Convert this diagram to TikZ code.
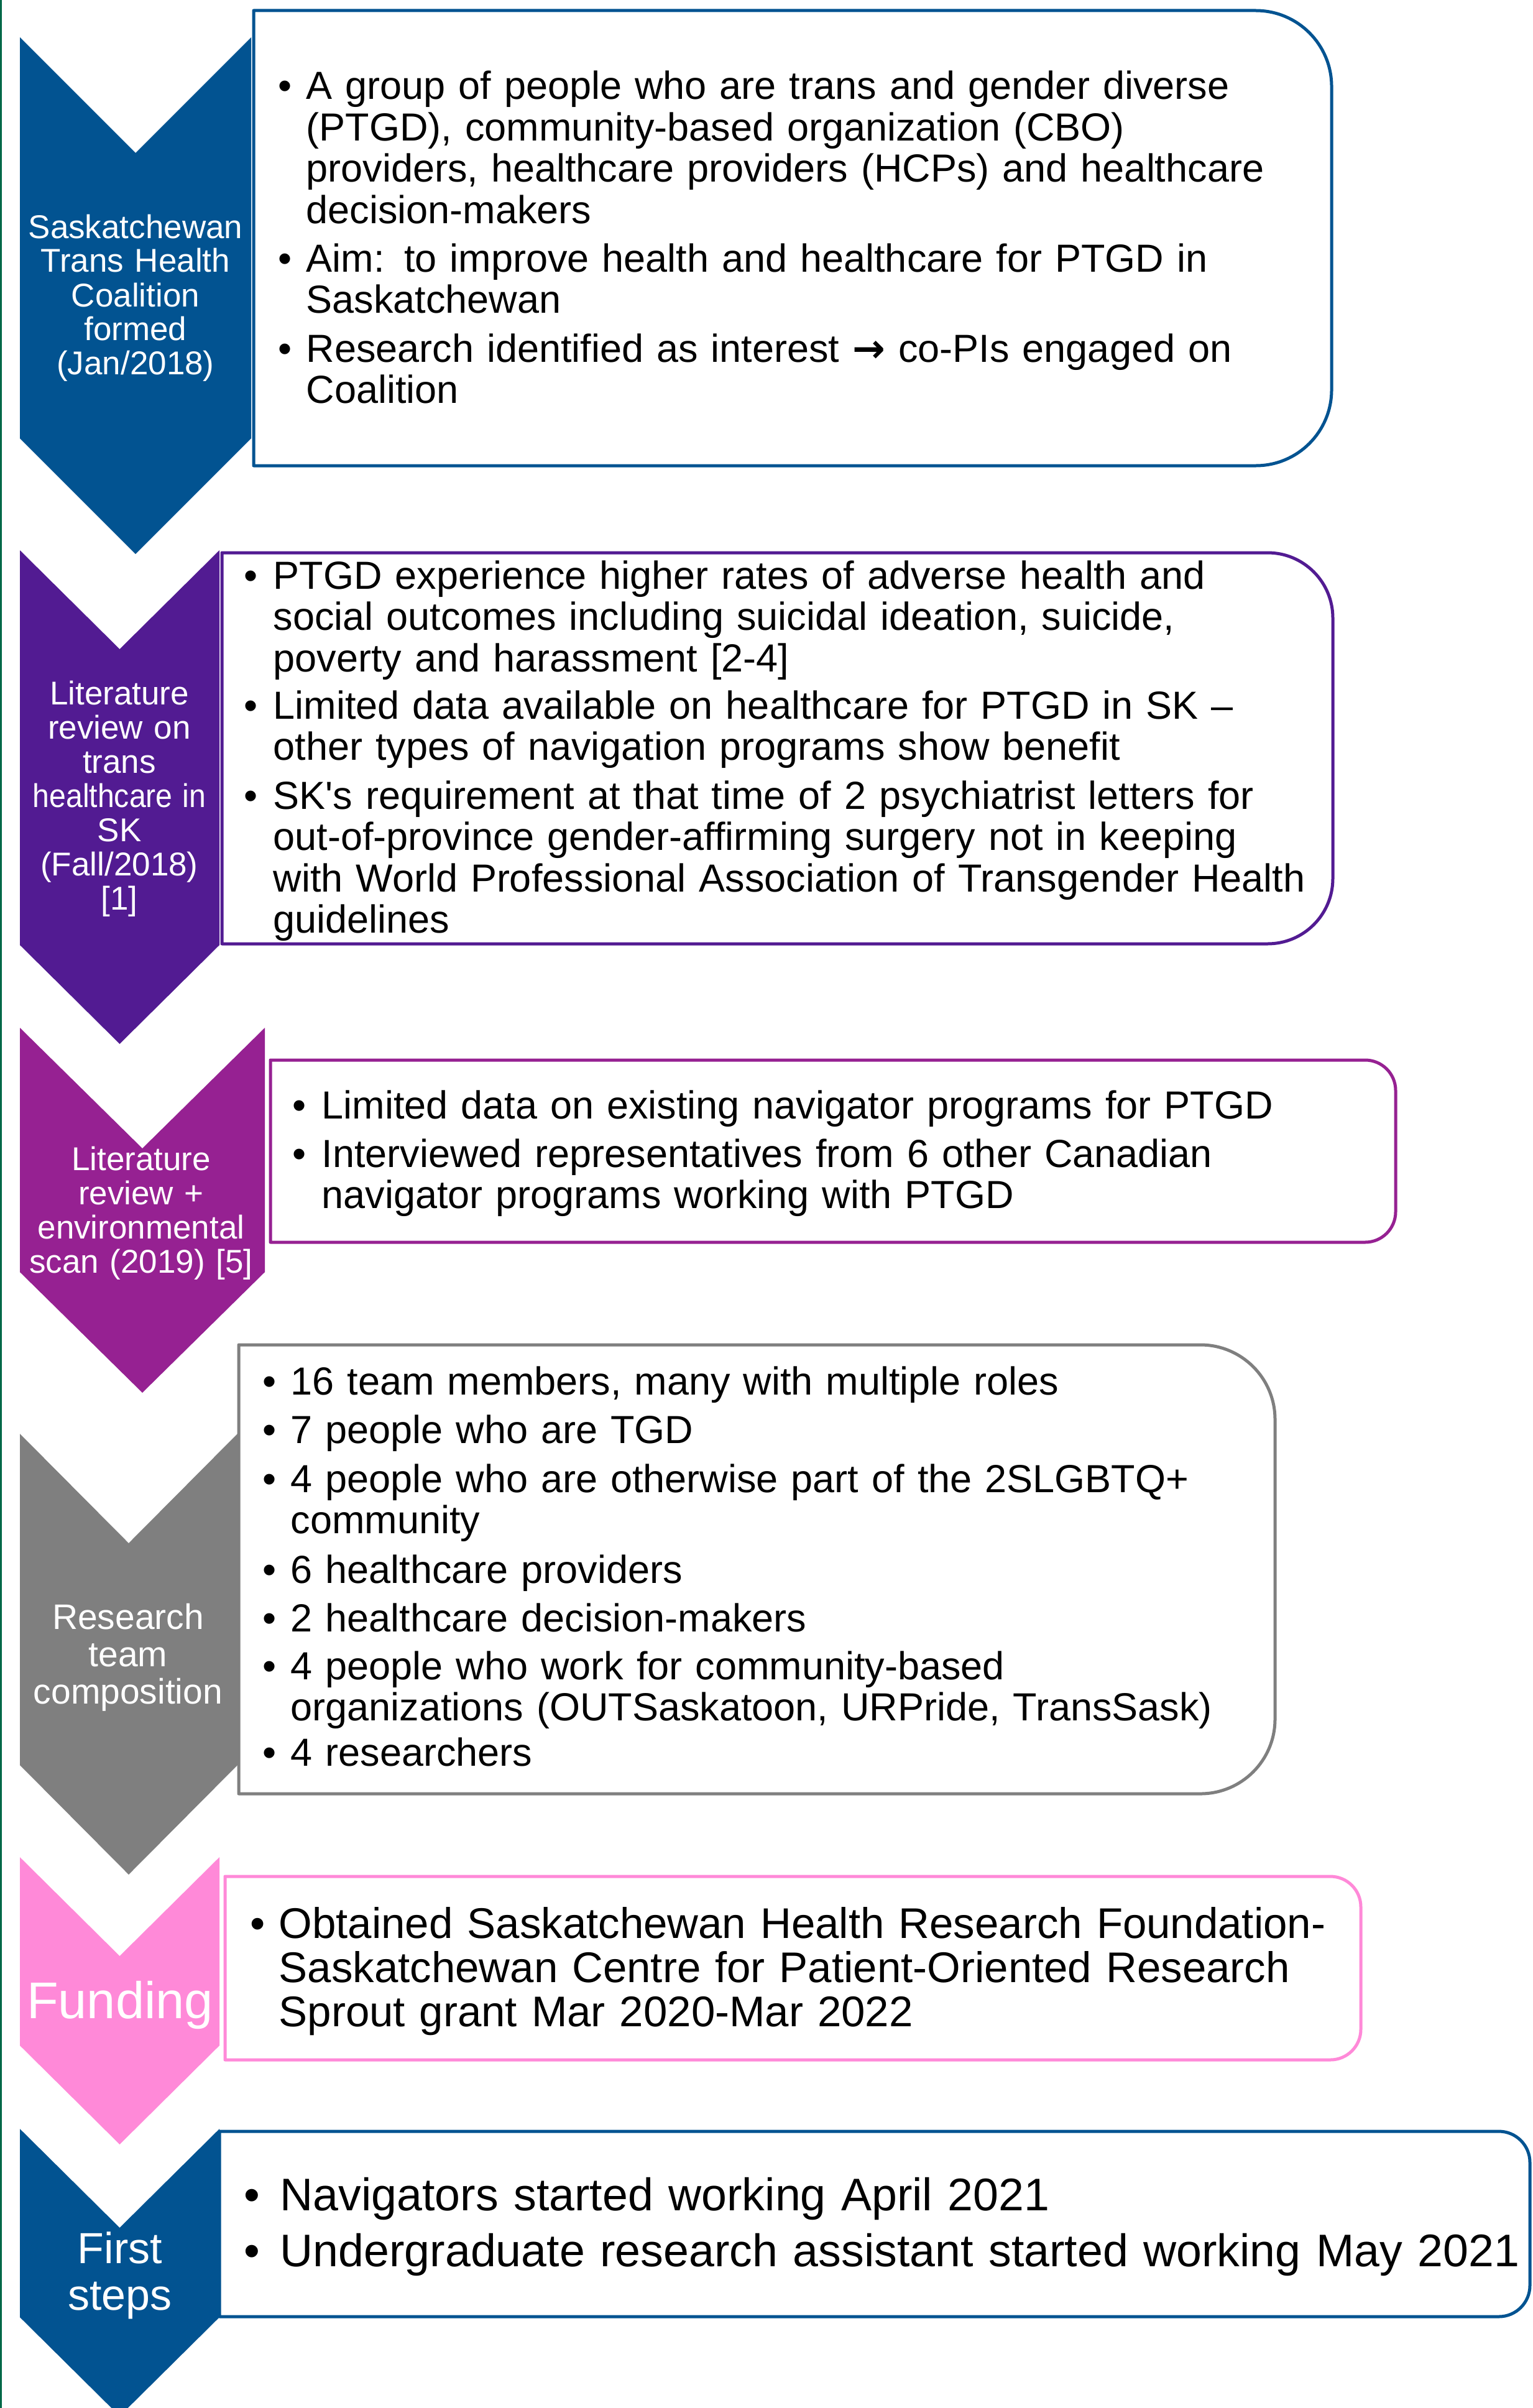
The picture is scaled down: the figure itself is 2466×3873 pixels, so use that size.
\documentclass[tikz,border=0pt]{standalone}
\usepackage{fontspec}
\usepackage{graphicx}
\setmainfont{Liberation Sans}
\newfontfamily\arrowfont{DejaVu Sans}
\definecolor{cblue}{RGB}{2,83,145}
\definecolor{cpurple}{RGB}{82,27,146}
\definecolor{cmagenta}{RGB}{150,33,146}
\definecolor{cgray}{RGB}{127,127,127}
\definecolor{cpink}{RGB}{255,137,216}
\definecolor{cgreen}{RGB}{0,104,71}
\newcommand\fsz[2]{\fontsize{#1pt}{#2pt}\selectfont}
% chevron: colour, left, right, top, depth, bottom corner
\newcommand\chevron[6]{\fill[#1] (#2,#4) -- ({(#2+#3)/2},{#4+#5}) -- (#3,#4) -- (#3,#6) -- ({(#2+#3)/2},{#6+#5}) -- (#2,#6) -- cycle;}
% box with rounded right corners: left, top, right, bottom, colour, radius
\newcommand\rbox[6]{\draw[boxline,draw=#5] (#1,#2) -- ({#3-#6},#2) arc[start angle=-90,end angle=0,radius=#6] -- (#3,{#4-#6}) arc[start angle=0,end angle=90,radius=#6] -- (#1,#4) -- cycle;}
\tikzset{
  chev/.style={text=white, align=center, anchor=base, inner sep=0pt, text width=125pt},
  itemA/.style={anchor=base west, inner sep=0pt, text width=640pt, align=left, font=\fsz{18.9}{19.95}},
  itemB/.style={anchor=base west, inner sep=0pt, text width=640pt, align=left, font=\fsz{20.7}{21.3}},
  itemC/.style={anchor=base west, inner sep=0pt, text width=640pt, align=left, font=\fsz{22.05}{26.7}},
  bulA/.style={anchor=base west, inner sep=0pt, font=\fsz{18.9}{19.95}},
  bulB/.style={anchor=base west, inner sep=0pt, font=\fsz{20.7}{21.3}},
  bulC/.style={anchor=base west, inner sep=0pt, font=\fsz{22.05}{26.7}},
  boxline/.style={line width=1.5pt, fill=white, line join=round},
}
\begin{document}
\begin{tikzpicture}[x=0.3pt,y=-0.3pt]
\useasboundingbox (0,0) rectangle (2466,3873);
\fill[white] (0,0) rectangle (2466,3873);
\fill[cgreen] (0,0) rectangle (3,3873);

% chevrons
\chevron{cblue}{32}{404}{60}{186}{705}
\chevron{cpurple}{32}{353}{885}{159}{1520}
\chevron{cmagenta}{32}{426}{1653}{194}{2046}
\chevron{cgray}{32}{382}{2306}{176}{2839}
\chevron{cpink}{32}{353}{2987}{159}{3290}
\chevron{cblue}{32}{353}{3424}{159}{3727}

% boxes
\rbox{408}{17}{2142}{749}{cblue}{122}
\rbox{357}{889}{2144}{1518}{cpurple}{105}
\rbox{435}{1705}{2245}{1998}{cmagenta}{49}
\rbox{384}{2163}{2051}{2885}{cgray}{120}
\rbox{362}{3018}{2189}{3313}{cpink}{49}
\rbox{353}{3428}{2461}{3726}{cblue}{50}

% chevron labels
\node[chev, font=\fsz{15.9}{16.5}] (c1) at (218,383) {Saskatchewan\\Trans Health\\Coalition\\formed\\(Jan/2018)};
\node[chev, font=\fsz{15.9}{16.5}] (c2) at (192,1133) {Literature\\review on\\trans\\\scalebox{0.91}[1]{healthcare in}\\SK\\(Fall/2018)\\{}[1]};
\node[chev, font=\fsz{15.9}{16.5}] (c3) at (227,1882) {Literature\\review +\\environmental\\scan (2019) [5]};
\node[chev, font=\fsz{17.1}{18}] (c4) at (206,2620) {Research\\team\\composition};
\node[chev, font=\fsz{24.9}{26}] (c5) at (193,3246) {Funding};
\node[chev, font=\fsz{21}{22.5}] (c6) at (193,3640) {First\\steps};

% box 1
\foreach \y/\n in {160/1,437/2,582/3} \node[bulA] (b1\n) at (447,\y) {•};
\node[itemA] (i11) at (492,160) {A group of people who are trans and gender diverse\\(PTGD), community-based organization (CBO)\\providers, healthcare providers (HCPs) and healthcare\\decision-makers};
\node[itemA] (i12) at (492,437) {Aim: to improve health and healthcare for PTGD in\\Saskatchewan};
\node[itemA] (i13) at (492,582) {Research identified as interest {\arrowfont\bfseries →} co-PIs engaged on\\Coalition};

% box 2
\foreach \y/\n in {947/1,1156/2,1301/3} \node[bulA] (b2\n) at (392,\y) {•};
\node[itemA] (i21) at (439,947) {PTGD experience higher rates of adverse health and\\social outcomes including suicidal ideation, suicide,\\poverty and harassment [2-4]};
\node[itemA] (i22) at (439,1156) {Limited data available on healthcare for PTGD in SK –\\other types of navigation programs show benefit};
\node[itemA] (i23) at (439,1301) {SK\textquotesingle s requirement at that time of 2 psychiatrist letters for\\out-of-province gender-affirming surgery not in keeping\\with World Professional Association of Transgender Health\\guidelines};

% box 3
\foreach \y/\n in {1799/1,1877/2} \node[bulA] (b3\n) at (470,\y) {•};
\node[itemA] (i31) at (517,1799) {Limited data on existing navigator programs for PTGD};
\node[itemA] (i32) at (517,1877) {Interviewed representatives from 6 other Canadian\\navigator programs working with PTGD};

% box 4
\foreach \y/\n in {2243/1,2321/2,2400/3,2546/4,2624/5,2701/6,2840/7} \node[bulA] (b4\n) at (422,\y) {•};
\node[itemA] (i41) at (467,2243) {16 team members, many with multiple roles};
\node[itemA] (i42) at (467,2321) {7 people who are TGD};
\node[itemA] (i43) at (467,2400) {4 people who are otherwise part of the 2SLGBTQ+\\community};
\node[itemA] (i44) at (467,2546) {6 healthcare providers};
\node[itemA] (i45) at (467,2624) {2 healthcare decision-makers};
\node[itemA] (i46) at (467,2701) {4 people who work for community-based\\organizations (OUTSaskatoon, URPride, TransSask)};
\node[itemA] (i47) at (467,2840) {4 researchers};

% box 5
\node[bulB] (b51) at (402,3117) {•};
\node[itemB] (i51) at (448,3117) {Obtained Saskatchewan Health Research Foundation-\\Saskatchewan Centre for Patient-Oriented Research\\Sprout grant Mar 2020-Mar 2022};

% box 6
\foreach \y/\n in {3555/1,3645/2} \node[bulC] (b6\n) at (392,\y) {•};
\node[itemC] (i61) at (450,3555) {Navigators started working April 2021};
\node[itemC] (i62) at (450,3645) {Undergraduate research assistant started working May 2021};
\end{tikzpicture}
\end{document}
